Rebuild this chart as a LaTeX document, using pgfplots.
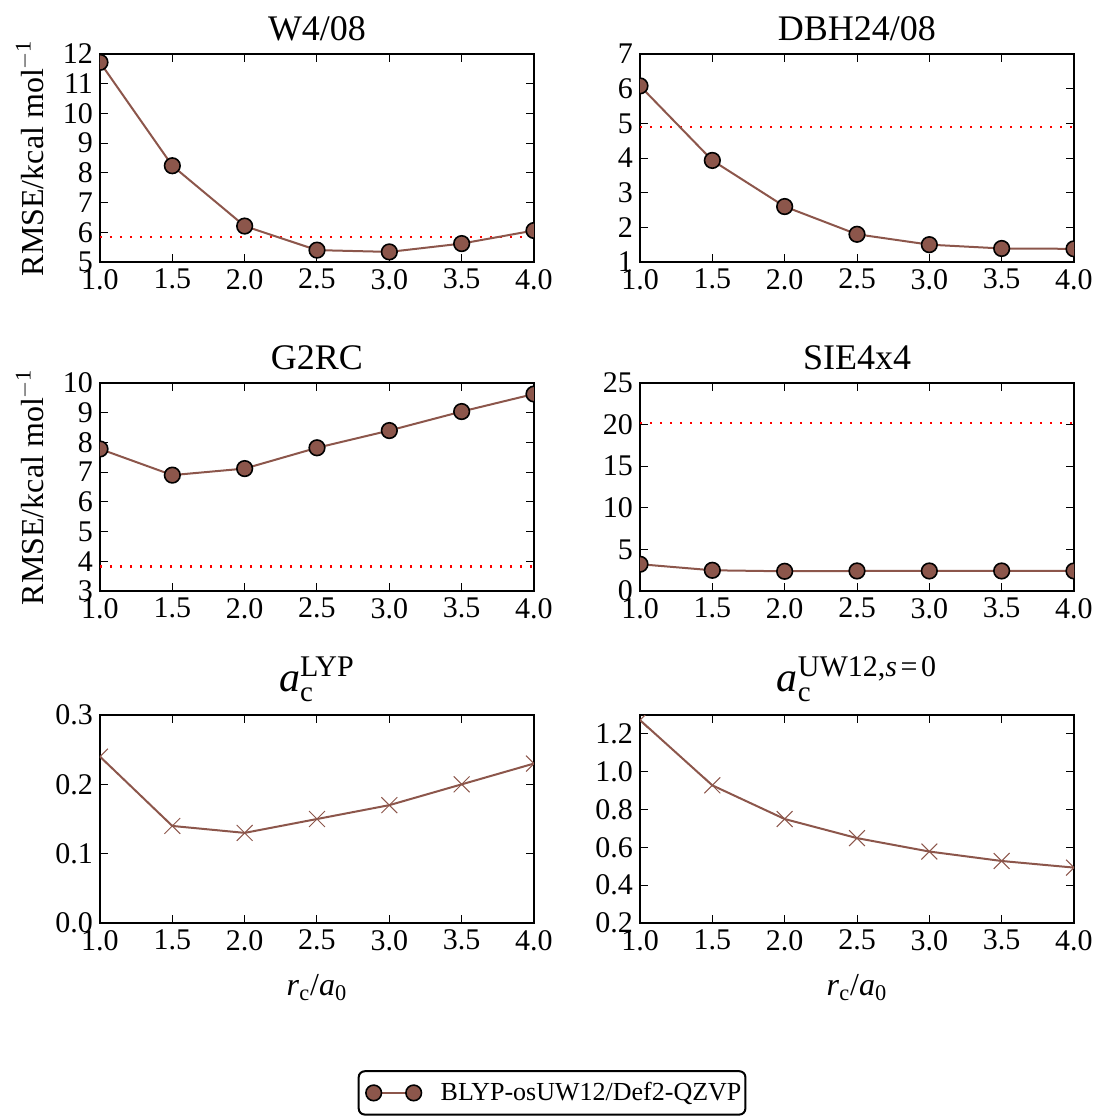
\documentclass[border=0pt]{standalone}
\usepackage{amsmath}
\usepackage{fontspec}
\setmainfont{Liberation Serif}
\usepackage{pgfplots}
\pgfplotsset{compat=1.18}
\definecolor{mybrown}{HTML}{8C564B}
\newcommand{\acttitle}[1]{{\fontsize{21}{23}\selectfont$\textit{a}_{\text{\fontsize{14.5}{15}\selectfont c}}^{\text{\fontsize{15}{16}\selectfont #1}}$}}
\pgfplotsset{
  panel/.style={
    scale only axis, width=217pt, height=104pt,
    xmin=1, xmax=4, xtick={1,1.5,2,2.5,3,3.5,4},
    x tick label style={/pgf/number format/fixed, /pgf/number format/fixed zerofill, /pgf/number format/precision=1},
    tick label style={font=\fontsize{15}{18}\selectfont},
    /pgf/number format/assume math mode=true,
    scaled ticks=false,
    axis line style={line width=1pt},
    major tick length=4pt,
    every tick/.style={black, line width=0.5pt},
    tick align=inside,
    title style={font=\fontsize{18}{21}\selectfont, yshift=-3pt},
    clip marker paths=true,
    ylabel style={font=\fontsize{16}{19}\selectfont, at={(axis description cs:-0.162,0.5)}, anchor=center},
    xlabel style={font=\fontsize{16}{19}\selectfont, at={(axis description cs:0.5,-0.31)}, anchor=center},
  },
  circ/.style={mybrown, line width=1pt, mark=*, mark size=3.9pt, mark options={fill=mybrown, draw=black, line width=0.8pt}},
  crs/.style={mybrown, line width=1pt, mark=x, mark size=5.6pt, mark options={mybrown, line width=0.5pt}},
  refl/.style={red, line width=1.2pt, dash pattern=on 1.2pt off 3.8pt},
}
\begin{document}
\begin{tikzpicture}
\useasboundingbox (0,0) rectangle (548pt,-558pt);
% W4/08
\begin{axis}[panel, at={(50pt,-27pt)}, anchor=north west,
  title={W4/08}, ymin=5, ymax=12, ytick={5,6,...,12},
  ylabel={RMSE/kcal mol\textsuperscript{$-$1}},
  legend style={at={(axis description cs:1.0416,-3.995)}, anchor=center, draw=black, line width=1pt, rounded corners=3pt,
    font=\fontsize{13}{15}\selectfont, inner xsep=0pt, inner ysep=3.5pt},
  legend cell align=left,
  legend image code/.code={\draw plot coordinates {(0pt,0pt) (20pt,0pt)}; \path (-7pt,0pt) (31pt,0pt);},
]
\addplot[refl, forget plot] coordinates {(1,5.84) (4,5.84)};
\addplot[circ] coordinates {(1.0,11.72) (1.5,8.24) (2.0,6.21) (2.5,5.40) (3.0,5.34) (3.5,5.62) (4.0,6.06)};
\addlegendentry{BLYP-osUW12/Def2-QZVP}
\end{axis}
% DBH24/08
\begin{axis}[panel, at={(320pt,-27pt)}, anchor=north west,
  title={DBH24/08}, ymin=1, ymax=7, ytick={1,2,...,7}]
\addplot[refl] coordinates {(1,4.90) (4,4.90)};
\addplot[circ] coordinates {(1.0,6.08) (1.5,3.93) (2.0,2.60) (2.5,1.80) (3.0,1.50) (3.5,1.39) (4.0,1.38)};
\end{axis}
% G2RC
\begin{axis}[panel, at={(50pt,-191.5pt)}, anchor=north west,
  title={G2RC}, ymin=3, ymax=10, ytick={3,4,...,10},
  ylabel={RMSE/kcal mol\textsuperscript{$-$1}}]
\addplot[refl] coordinates {(1,3.83) (4,3.83)};
\addplot[circ] coordinates {(1.0,7.78) (1.5,6.90) (2.0,7.12) (2.5,7.82) (3.0,8.40) (3.5,9.04) (4.0,9.63)};
\end{axis}
% SIE4x4
\begin{axis}[panel, at={(320pt,-191.5pt)}, anchor=north west,
  title={SIE4x4}, ymin=0, ymax=25, ytick={0,5,...,25}]
\addplot[refl] coordinates {(1,20.2) (4,20.2)};
\addplot[circ] coordinates {(1.0,3.22) (1.5,2.49) (2.0,2.37) (2.5,2.41) (3.0,2.41) (3.5,2.41) (4.0,2.41)};
\end{axis}
% a_c LYP
\begin{axis}[panel, at={(50pt,-357.5pt)}, anchor=north west,
  title={\acttitle{LYP}}, ymin=0, ymax=0.3, ytick={0,0.1,0.2,0.3},
  y tick label style={/pgf/number format/fixed, /pgf/number format/fixed zerofill, /pgf/number format/precision=1},
  xlabel={\textit{r}\textsubscript{c}/\textit{a}\textsubscript{0}}]
\addplot[crs] coordinates {(1.0,0.24) (1.5,0.14) (2.0,0.13) (2.5,0.15) (3.0,0.17) (3.5,0.20) (4.0,0.23)};
\end{axis}
% a_c UW12
\begin{axis}[panel, at={(320pt,-357.5pt)}, anchor=north west,
  title={\acttitle{UW12,\textit{s}\hspace{0.12em}=\hspace{0.12em}0}}, ymin=0.2, ymax=1.3, ytick={0.2,0.4,...,1.2},
  y tick label style={/pgf/number format/fixed, /pgf/number format/fixed zerofill, /pgf/number format/precision=1},
  xlabel={\textit{r}\textsubscript{c}/\textit{a}\textsubscript{0}}]
\addplot[crs] coordinates {(1.0,1.273) (1.5,0.928) (2.0,0.75) (2.5,0.649) (3.0,0.578) (3.5,0.528) (4.0,0.493)};
\end{axis}
\end{tikzpicture}
\end{document}
